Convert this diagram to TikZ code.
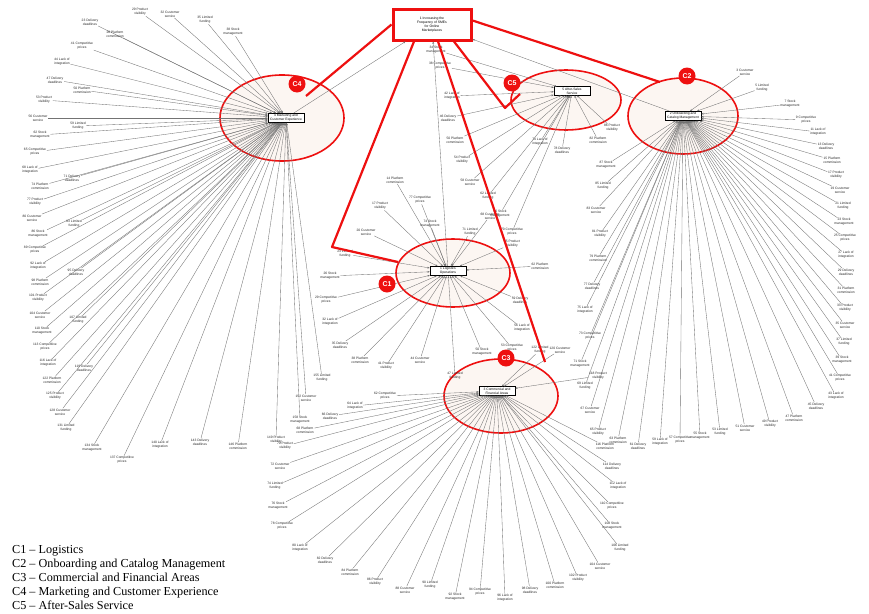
\documentclass[tikz,border=0pt]{standalone}
\usepackage{fontspec}
\setmainfont{Liberation Serif}
\newfontfamily\lblfont{Liberation Sans}
\usetikzlibrary{arrows.meta,shapes.geometric}
\definecolor{hubred}{HTML}{EE1010}
\definecolor{ellfill}{HTML}{FCF6F2}
\newcommand\phrase[1]{\ifcase#1 Lack of\\integration\or Delivery\\deadlines\or Platform\\commission\or Product\\visibility\or Customer\\service\or Limited\\funding\or Stock\\management\or Competitive\\prices\fi}
\tikzset{
  lbl/.style={font=\lblfont\fontsize{3.3}{3.9}\selectfont, align=center, inner sep=0.6pt, text=black!85},
  spoke/.style={draw=black!55, line width=0.35pt, -{Stealth[length=2.4pt,width=1.8pt]}},
  hubbox/.style={draw=black, fill=white, line width=0.5pt, font=\lblfont\fontsize{3.3}{3.9}\selectfont, align=center, inner sep=1.2pt, minimum width=36pt},
  cluster/.style={ellipse, draw=hubred, fill=ellfill, line width=1.6pt, inner sep=0pt},
  redlink/.style={draw=hubred, line width=2.2pt, line join=round},
  ctag/.style={circle, fill=hubred, text=white, font=\lblfont\bfseries\fontsize{7}{7}\selectfont, minimum size=17pt, inner sep=0pt},
  legend/.style={anchor=base west, font=\fontsize{12.2}{13}\selectfont, inner sep=0pt}
}
\begin{document}
\begin{tikzpicture}[x=1pt,y=-1pt]
\useasboundingbox (0,0) rectangle (869,613);
\fill[white] (0,0) rectangle (869,613);
% clusters
\node[cluster, minimum width=124pt, minimum height=86pt] (e4) at (282,118) {};
\node[cluster, minimum width=110pt, minimum height=60pt] (e5) at (566,100) {};
\node[cluster, minimum width=110pt, minimum height=76pt] (e2) at (683,116) {};
\node[cluster, minimum width=114pt, minimum height=68pt] (e1) at (453,273) {};
\node[cluster, minimum width=114pt, minimum height=74pt] (e3) at (501,396) {};
% hub boxes
\node[hubbox] (h4) at (286,118) {4 Marketing and\\Customer Experience};
\node[hubbox] (h5) at (572,91) {5 After-Sales\\Service};
\node[hubbox] (h2) at (683,116) {2 Onboarding and\\Catalog Management};
\node[hubbox] (h1) at (448,271) {1 Logistics\\Operations};
\node[hubbox] (h3) at (497,391) {3 Commercial and\\Financial Areas};
% spokes C4
\foreach [count=\k] \x/\y in {90/22,115/34,140/12,170/14,205/20,233/32,82/46,62/62,55/80,82/90,44/100,38/118,78/126,40/135,35/152,30/170,72/178,40/186,35/202,32/218,74/224,38/234,35/250,38/266,76/272,40/282,38/298,40/315,78/320,42/331,45/347,48/363,84/368,52/380,55/396,60/412,66/428,92/448,122/460,160/445,200/442,238/446,276/440,306/398,322/378,300/420}{
  \pgfmathtruncatemacro\m{mod(\k,8)}\pgfmathtruncatemacro\nn{\k*3+20}
  \node[lbl] (a\k) at (\x,\y) {\nn~\phrase{\m}};
  \draw[spoke] (a\k) -- (h4);
}
% spokes C2
\foreach [count=\k] \x/\y in {745/72,762/88,790/104,806/120,818/132,826/146,832/160,836/175,840/190,843/206,844/222,845/238,846/255,846/272,846/290,845/308,845/325,844/342,842/360,840/378,836/396,816/406,794/418,770/424,745/428,720/432,700/436,680/440,660/442,638/446,618/440,598/432,590/410,585/386,580/364,590/336,585/310,592/286,598/258,600/234,596/210,603/186,606/165}{
  \pgfmathtruncatemacro\m{mod(\k+3,8)}\pgfmathtruncatemacro\nn{\k*2+1}
  \node[lbl] (b\k) at (\x,\y) {\nn~\phrase{\m}};
  \draw[spoke] (b\k) -- (h2);
}
% spokes C5
\foreach [count=\k] \x/\y in {436/50,440/66,452/96,448/118,455/140,462/160,470/182,488/196,500/214,512/232,540/142,562/150,598/140,612/128}{
  \pgfmathtruncatemacro\m{mod(\k+5,8)}\pgfmathtruncatemacro\nn{\k*4+30}
  \node[lbl] (d\k) at (\x,\y) {\nn~\phrase{\m}};
  \draw[spoke] (d\k) -- (h5);
}
% spokes C1
\foreach [count=\k] \x/\y in {395/180,380/206,366/232,345/254,330/276,326/300,330/322,340/345,360/360,386/366,420/360,455/376,482/352,512/348,522/328,520/300,540/266,512/244,490/216,470/232,430/224,420/200}{
  \pgfmathtruncatemacro\m{mod(\k+1,8)}\pgfmathtruncatemacro\nn{\k*3+11}
  \node[lbl] (f\k) at (\x,\y) {\nn~\phrase{\m}};
  \draw[spoke] (f\k) -- (h1);
}
% spokes C3
\foreach [count=\k] \x/\y in {385/396,355/406,330/416,305/430,285/446,280/466,275/486,278/506,282/526,300/548,325/560,350/572,375/582,405/590,430/585,455/597,480/592,505/598,530/590,555/585,578/578,600/566,620/548,612/526,612/506,618/486,612/466,605/446,598/376,560/350,540/350}{
  \pgfmathtruncatemacro\m{mod(\k+6,8)}\pgfmathtruncatemacro\nn{\k*2+60}
  \node[lbl] (g\k) at (\x,\y) {\nn~\phrase{\m}};
  \draw[spoke] (g\k) -- (h3);
}
% root
\node[draw=hubred, line width=3pt, fill=white, minimum width=78pt, minimum height=31pt, font=\lblfont\fontsize{3.4}{4}\selectfont, align=center, inner sep=1pt] (root) at (432,24.5) {1 Increasing the\\Frequency of SMEs\\for Online\\Marketplaces};
\draw[spoke] (h4) -- (root);
\draw[spoke] (h1) -- (root);
\draw[spoke] (h2) -- (root);
% red links
\coordinate (p4) at (306,96);
\coordinate (q1) at (332,247);
\coordinate (p1) at (398,262);
\coordinate (q5) at (505,108);
\coordinate (p5) at (520,94);
\coordinate (p3) at (545,362);
\coordinate (p2) at (660,82);
\draw[redlink] (root.west) -- (p4);
\draw[redlink] ([xshift=-18pt]root.south) -- (q1) -- (p1);
\draw[redlink] ([xshift=22pt]root.south) -- (q5) -- (p5);
\draw[redlink] ([xshift=6pt]root.south) -- (p3);
\draw[redlink] ([yshift=4pt]root.east) -- (p2);
% tags
\node[ctag] (t4) at (297,84) {C4};
\node[ctag] (t5) at (512,83) {C5};
\node[ctag] (t2) at (687,76) {C2};
\node[ctag] (t1) at (387,284) {C1};
\node[ctag] (t3) at (506,358) {C3};
% legend
\node[legend] (l1) at (12,553) {C1 -- Logistics};
\node[legend] (l2) at (12,567) {C2 -- Onboarding and Catalog Management};
\node[legend] (l3) at (12,581) {C3 -- Commercial and Financial Areas};
\node[legend] (l4) at (12,595) {C4 -- Marketing and Customer Experience};
\node[legend] (l5) at (12,609.5) {C5 -- After-Sales Service};
\end{tikzpicture}
\end{document}
